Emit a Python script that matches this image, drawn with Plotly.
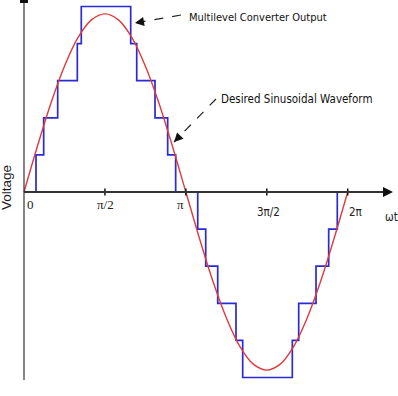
import math
import plotly.graph_objects as go

# ---- data ----
step_angles = [0, 0.233, 0.382, 0.654, 1.035, 1.112, 2.071, 2.188, 2.543, 2.789, 2.944,
               3.372, 3.527, 3.760, 4.115, 4.245, 5.208, 5.332, 5.668, 5.914, 6.081, 6.283]
step_levels = [0, 1, 2, 3, 4, 5, 4, 3, 2, 1, 0,
               -1, -2, -3, -4, -5, -4, -3, -2, -1, 0, 0]

sine_angles_deg = [0, 15, 30, 45, 60, 75, 90, 105, 120, 135, 150, 165, 180,
                   195, 210, 225, 240, 255, 270, 285, 300, 315, 330, 345, 360]
sine_values = [0, 1.24, 2.40, 3.39, 4.16, 4.64, 4.80, 4.64, 4.16, 3.39, 2.40, 1.24, 0,
               -1.24, -2.40, -3.39, -4.16, -4.64, -4.80, -4.64, -4.16, -3.39, -2.40, -1.24, 0]

tick_values = [0, math.pi / 2, math.pi, 3 * math.pi / 2, 2 * math.pi]
tick_labels = ["0", "π/2", "π", "3π/2", "2π"]

W, H = 398, 396
X0PX, PXPERRAD = 24, 51.52
Y0PX, PXPERLVL = 192, 37.1
xr = [-X0PX / PXPERRAD, (W - X0PX) / PXPERRAD]
yr = [-(H - Y0PX) / PXPERLVL, Y0PX / PXPERLVL]

def px(xp, yp):
    return xp / W, 1 - yp / H

fig = go.Figure()

# axis lines
axis_col = "#333333"
x_end = (388 - X0PX) / PXPERRAD
fig.add_shape(type="line", x0=0, y0=0, x1=x_end, y1=0, xref="x", yref="y",
              line=dict(color=axis_col, width=2.2))
fig.add_shape(type="line", x0=0, y0=yr[1], x1=0, y1=-(380 - Y0PX) / PXPERLVL,
              xref="x", yref="y", line=dict(color=axis_col, width=1.2))
fig.add_shape(type="rect", x0=-4 / PXPERRAD, x1=4 / PXPERRAD, y0=yr[1] - 3 / PXPERLVL, y1=yr[1],
              xref="x", yref="y", line=dict(width=0), fillcolor="#111111")

# staircase
fig.add_trace(go.Scatter(x=step_angles, y=step_levels, mode="lines", line_shape="hv",
                         line=dict(color="#2a2ad6", width=1.7), hoverinfo="skip"))
# sine
fig.add_trace(go.Scatter(x=[math.radians(a) for a in sine_angles_deg], y=sine_values,
                         mode="lines", line_shape="spline",
                         line=dict(color="#e03a3a", width=1.4), hoverinfo="skip"))
# tick marks
fig.add_trace(go.Scatter(x=tick_values[1:], y=[0] * 4, mode="markers",
                         marker=dict(symbol="line-ns", size=5, line=dict(color="#111", width=1.5)),
                         hoverinfo="skip"))

# x-axis arrowhead
fig.add_annotation(x=(393 - X0PX) / PXPERRAD, y=0, xref="x", yref="y", ax=-10, ay=0,
                   showarrow=True, arrowhead=2, arrowsize=1, arrowwidth=2, arrowcolor="#111", text="")

serif = "Liberation Serif, Times New Roman, serif"
narrow = "DejaVu Sans Condensed, Liberation Sans Narrow, Arial Narrow, sans-serif"

def text_at(xp, yp, t, family, size, angle=0, color="#222"):
    x, y = px(xp, yp)
    fig.add_annotation(x=x, y=y, xref="paper", yref="paper", text=t, showarrow=False,
                       xanchor="center", yanchor="middle", textangle=angle,
                       font=dict(family=family, size=size, color=color))

# tick labels
label_shift = [(6, 205), (1, 205), (-5, 205), (2, 212), (8, 212)]
for i, (v, t) in enumerate(zip(tick_values, tick_labels)):
    dx, yp = label_shift[i]
    fig.add_annotation(x=v, y=1 - yp / H, xref="x", yref="paper", xshift=dx, text=t,
                       xanchor="center", yanchor="middle", showarrow=False,
                       font=dict(family=serif if i < 3 else narrow,
                                 size=13 if i < 3 else 11.5, color="#222"))
text_at(391, 217, "ωt", narrow, 11.5)
text_at(7, 188, "Voltage", "Liberation Sans, Arial, sans-serif", 13.5, angle=-90)

# callouts
text_at(258, 17, "Multilevel Converter Output", narrow, 11, color="#111")
text_at(296, 99, "Desired Sinusoidal Waveform", narrow, 11.5, color="#111")

def callout(tail, head):
    tx, ty = px(*tail)
    hx, hy = px(*head)
    fig.add_shape(type="line", x0=tx, y0=ty, x1=hx, y1=hy, xref="paper", yref="paper",
                  line=dict(color="#222", width=1.2, dash="dash"))
    dx, dy = tail[0] - head[0], tail[1] - head[1]
    L = math.hypot(dx, dy)
    fig.add_annotation(x=hx, y=hy, xref="paper", yref="paper", ax=dx / L * 9, ay=dy / L * 9,
                       showarrow=True, arrowhead=2, arrowsize=1.2, arrowwidth=1.5,
                       arrowcolor="#111", text="")

callout((181, 15), (135, 23))
callout((216, 99), (174, 142))

fig.update_layout(width=W, height=H, margin=dict(l=0, r=0, t=0, b=0),
                  plot_bgcolor="white", paper_bgcolor="white", showlegend=False,
                  xaxis=dict(range=xr, visible=False, fixedrange=True),
                  yaxis=dict(range=yr, visible=False, fixedrange=True))
fig.write_html("out.html")
